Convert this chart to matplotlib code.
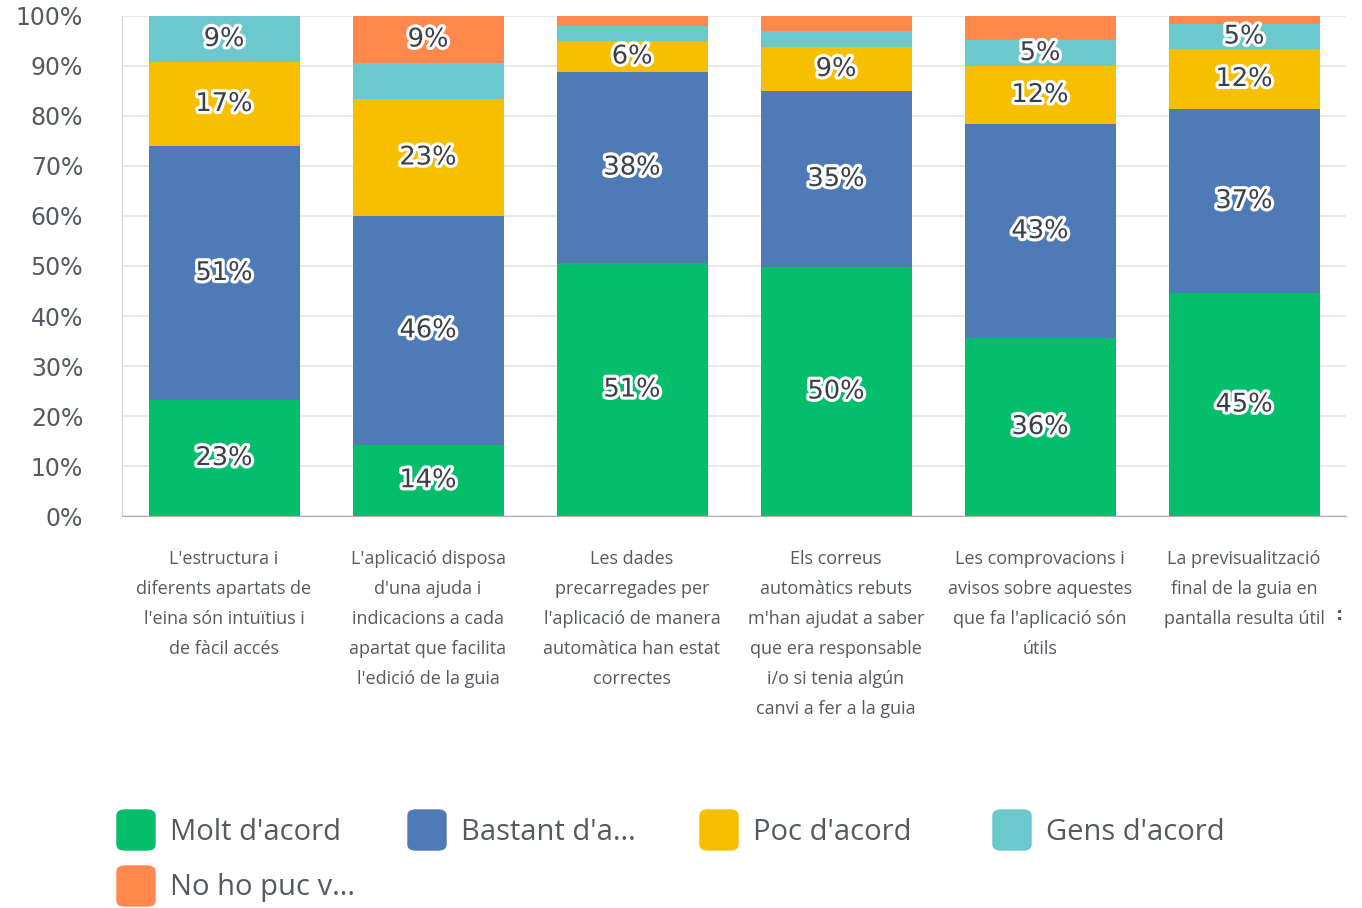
import matplotlib.pyplot as plt
import matplotlib.patheffects as pe
from matplotlib.patches import FancyBboxPatch
import numpy as np

categories = [
    "L'estructura i\ndiferents apartats de\nl'eina són intuïtius i\nde fàcil accés",
    "L'aplicació disposa\nd'una ajuda i\nindicacions a cada\napartat que facilita\nl'edició de la guia",
    "Les dades\nprecarregades per\nl'aplicació de manera\nautomàtica han estat\ncorrectes",
    "Els correus\nautomàtics rebuts\nm'han ajudat a saber\nque era responsable\ni/o si tenia algún\ncanvi a fer a la guia",
    "Les comprovacions i\navisos sobre aquestes\nque fa l'aplicació són\nútils",
    "La previsualització\nfinal de la guia en\npantalla resulta útil",
]
series_names = ["Molt d'acord", "Bastant d'a...", "Poc d'acord", "Gens d'acord", "No ho puc v..."]
series_colors = ["#05BE6C", "#4E7AB5", "#F8BE00", "#6BC8CD", "#FF884D"]

molt = [23.2, 14.3, 50.6, 49.8, 35.6, 44.6]
bastant = [50.8, 45.7, 38.2, 35.2, 42.8, 36.8]
poc = [16.8, 23.4, 6.2, 8.8, 11.6, 12.0]
gens = [9.2, 7.2, 3.0, 3.2, 5.2, 5.0]
no_ho = [0.0, 9.4, 2.0, 3.0, 4.8, 1.6]
series = [molt, bastant, poc, gens, no_ho]

# labels the original chart leaves out (category index, series index)
hidden_labels = {(1, 3)}
min_label = 4.95

fig = plt.figure(figsize=(13.62, 9.08), dpi=100)
ax = fig.add_axes([0.0896, 0.4317, 0.8987, 0.5507])

x = np.arange(len(categories))
bottom = np.zeros(len(categories))
for s, (vals, color) in enumerate(zip(series, series_colors)):
    vals = np.array(vals)
    ax.bar(x, vals, bottom=bottom, width=0.74, color=color, zorder=2)
    for i, v in enumerate(vals):
        if v >= min_label and (i, s) not in hidden_labels:
            ax.text(i, bottom[i] + v / 2, f"{v:.0f}%", ha="center", va="center",
                    fontsize=18.5, color="#3a3f48", family="DejaVu Sans", zorder=3,
                    path_effects=[pe.withStroke(linewidth=4.5, foreground="white")])
    bottom += vals

ax.set_xlim(-0.5, len(categories) - 0.5)
ax.set_ylim(0, 100)
ax.set_yticks(range(0, 101, 10))
ax.set_yticklabels([f"{t}%" for t in range(0, 101, 10)], fontsize=17,
                   color="#555a60", family="DejaVu Sans")
ax.tick_params(axis="y", length=0, pad=28)
ax.set_xticks([])
ax.grid(axis="y", color="#e6e6e6", linewidth=1.2, zorder=0)
ax.set_axisbelow(True)
for side in ["top", "right"]:
    ax.spines[side].set_visible(False)
ax.spines["left"].set_color("#d0d0d0")
ax.spines["bottom"].set_color("#b0b0b0")

for i, label in enumerate(categories):
    ax.text(i, -0.068, label, transform=ax.get_xaxis_transform(), ha="center", va="top",
            fontsize=13, color="#555a60", family="Open Sans", linespacing=1.85)

fig.text(1340 / 1362, 1 - 615 / 908, ":", ha="center", va="center", fontsize=13,
         fontweight="bold", color="#555a60")

# legend drawn by hand to keep the wide spacing of the original
legend_pos = [(117, 810), (408, 810), (700, 810), (993, 810), (117, 866)]
W, H = 1362, 908
for (px, py), name, color in zip(legend_pos, series_names, series_colors):
    box = FancyBboxPatch((px / W, 1 - (py + 40) / H), 38 / W, 40 / H,
                         boxstyle="round,pad=0,rounding_size=0.006",
                         transform=fig.transFigure, color=color)
    fig.patches.append(box)
    fig.text((px + 53) / W, 1 - (py + 22) / H, name, ha="left", va="center",
             fontsize=21, color="#555a60", family="Open Sans")

fig.savefig("out.png", dpi=100)
